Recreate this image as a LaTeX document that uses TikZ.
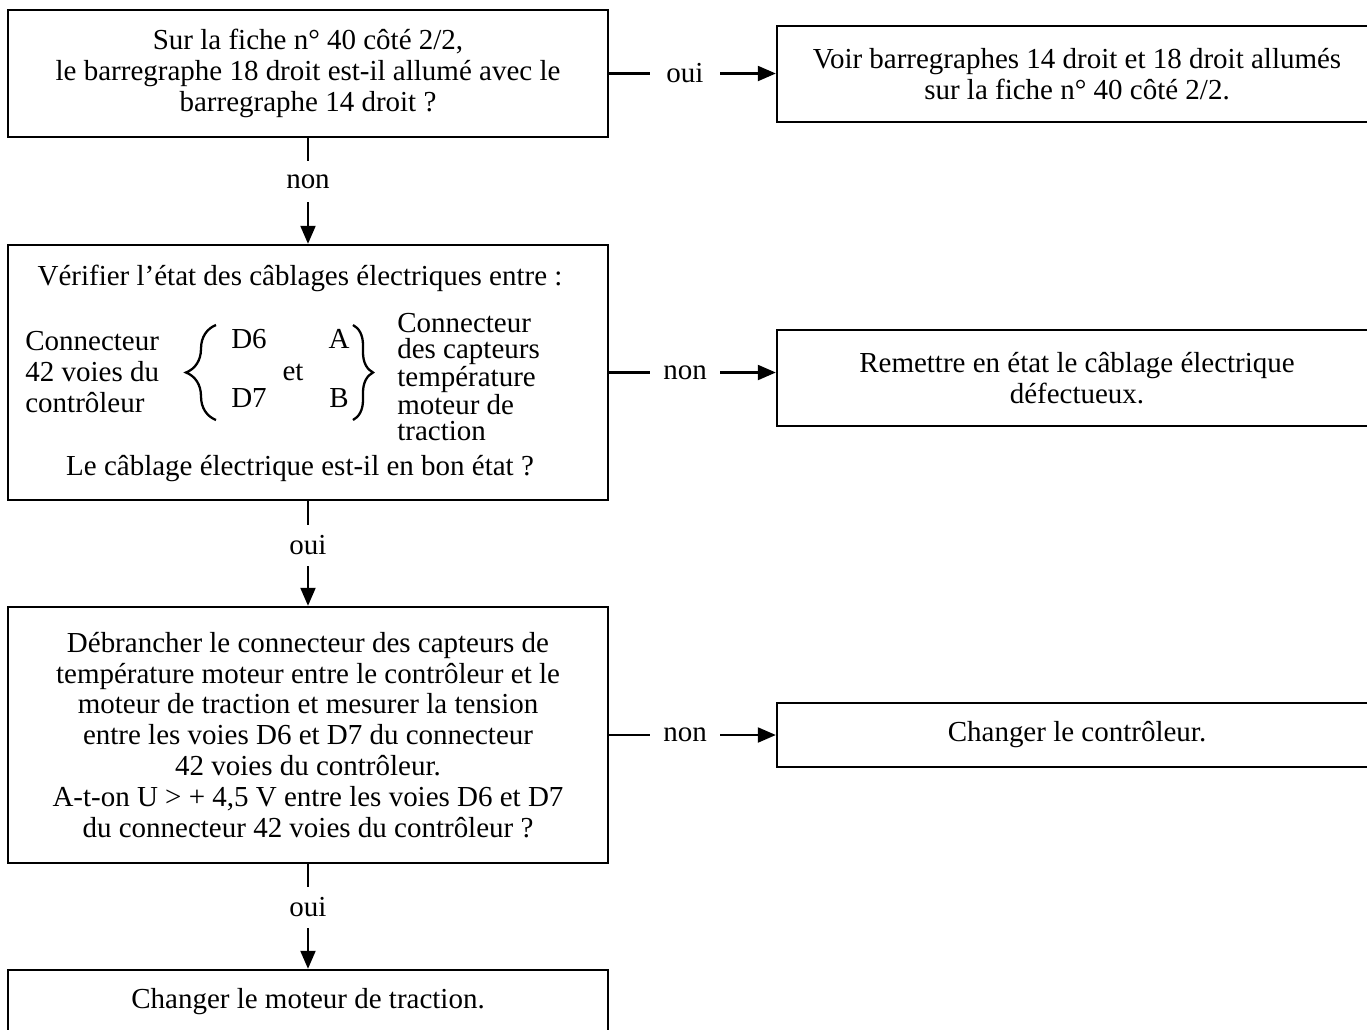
\documentclass[tikz,border=0pt]{standalone}
\usepackage{fontspec}
\setmainfont{Liberation Serif}
\usepackage{tikz}
\usetikzlibrary{arrows.meta,positioning,decorations.pathreplacing}

\begin{document}
\begin{tikzpicture}[x=0.02cm,y=-0.02cm,
  txt/.style={font=\fontsize{16.5}{17.6}\selectfont,inner sep=0pt},
  box/.style={draw,line width=1.4pt,minimum width=12cm,align=center,txt},
  lbl/.style={txt,minimum width=1.4cm,minimum height=0.82cm},
  link/.style={line width=1.2pt},
  arr/.style={line width=1.2pt,-{Triangle[length=0.36cm,width=0.3cm]}},
  brc/.style={decorate,decoration={brace,amplitude=#1},line width=1.3pt}]

\useasboundingbox (0,0) rectangle (1367,1029);

% Questions on the left
\node[box,minimum height=2.54cm] (q1) at (308,73.5) {Sur la fiche n° 40 côté 2/2,\\le barregraphe 18 droit est-il allumé avec le\\barregraphe 14 droit ?};
\node[box,minimum height=5.1cm] (q2) at (308,372.5) {};
\node[box,minimum height=5.12cm] (q3) at (308,735) {Débrancher le connecteur des capteurs de\\température moteur entre le contrôleur et le\\moteur de traction et mesurer la tension\\entre les voies D6 et D7 du connecteur\\42 voies du contrôleur.\\A-t-on U > + 4,5 V entre les voies D6 et D7\\du connecteur 42 voies du contrôleur ?};
\node[box,minimum height=1.28cm] (q4) at (308,1002) {Changer le moteur de traction.};

% Inside the second question
\node[txt,anchor=base] (t1) at (300,285) {Vérifier l’état des câblages électriques entre :};
\node[txt,anchor=west,align=left] (lc) at (25,372) {Connecteur\\42 voies du\\contrôleur};
\node[txt,anchor=west,align=left,font=\fontsize{16.5}{14.9}\selectfont] (rc) at (397,377) {Connecteur\\des capteurs\\température\\moteur de\\traction};
\node[txt,anchor=base] (d6) at (249,348) {D6};
\node[txt,anchor=base] (d7) at (249,407) {D7};
\node[txt,anchor=base] (pa) at (339,348) {A};
\node[txt,anchor=base] (pb) at (339,407) {B};
\node[txt,anchor=base] (et) at (293,380) {et};
\draw[brc=0.6cm] (216,420) -- (216,325);
\draw[brc=0.4cm] (353,325) -- (353,420);
\node[txt,anchor=base] (t2) at (300,475) {Le câblage électrique est-il en bon état ?};

% Actions on the right
\node[box,minimum height=1.92cm] (r1) at (1077,74) {Voir barregraphes 14 droit et 18 droit allumés\\sur la fiche n° 40 côté 2/2.};
\node[box,minimum height=1.92cm] (r2) at (1077,378) {Remettre en état le câblage électrique\\défectueux.};
\node[box,minimum height=1.28cm] (r3) at (1077,735) {Changer le contrôleur.};

% Answers
\node[lbl] (n1) at (308,181.5) {non};
\node[lbl] (o2) at (308,545.5) {oui};
\node[lbl] (o3) at (308,907.5) {oui};
\node[lbl] (o1) at (685,73.5) {oui};
\node[lbl] (n2) at (685,372.5) {non};
\node[lbl] (n3) at (685,735) {non};

% Links down
\draw[link] (q1.south) -- (n1.north);
\draw[arr] (n1.south) -- (q2.north);
\draw[link] (q2.south) -- (o2.north);
\draw[arr] (o2.south) -- (q3.north);
\draw[link] (q3.south) -- (o3.north);
\draw[arr] (o3.south) -- (q4.north);

% Links to the right
\draw[link] (q1.east) -- (o1.west);
\draw[arr] (o1.east) -- (o1.east -| r1.west);
\draw[link] (q2.east) -- (n2.west);
\draw[arr] (n2.east) -- (n2.east -| r2.west);
\draw[link] (q3.east) -- (n3.west);
\draw[arr] (n3.east) -- (n3.east -| r3.west);

\end{tikzpicture}
\end{document}
